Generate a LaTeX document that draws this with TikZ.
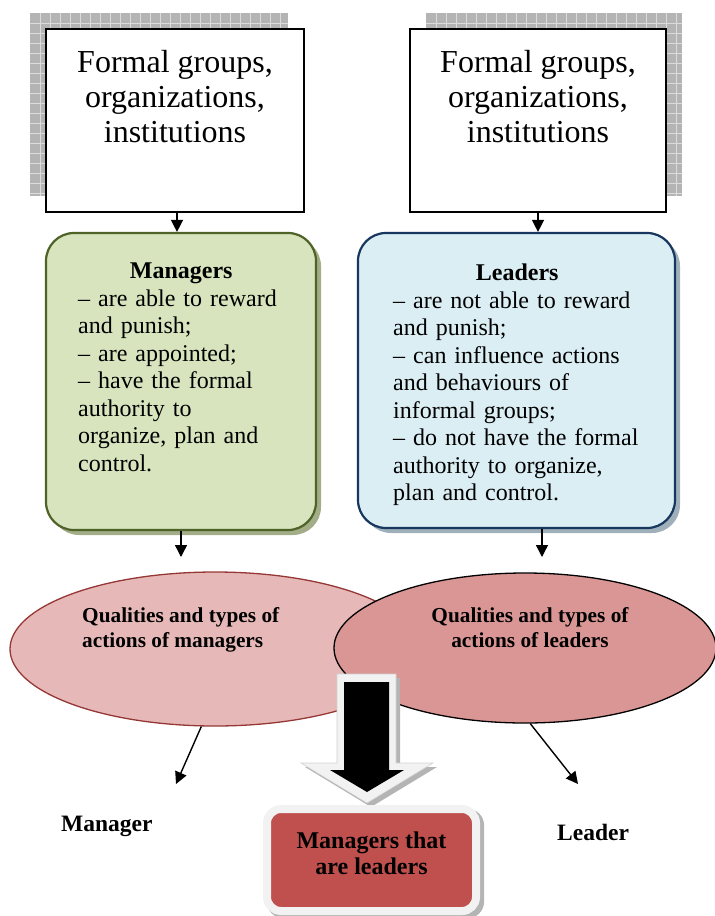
\documentclass[tikz,border=0pt]{standalone}
\usepackage{fontspec}
\setmainfont{Liberation Serif}
\usetikzlibrary{arrows.meta,shapes.geometric}
\definecolor{mgrfill}{HTML}{D7E4BD}
\definecolor{mgrline}{HTML}{4F6228}
\definecolor{ldrfill}{HTML}{DBEEF4}
\definecolor{ldrline}{HTML}{17375E}
\definecolor{qmfill}{HTML}{E6B9B8}
\definecolor{qmline}{HTML}{953735}
\definecolor{qlfill}{HTML}{D99694}
\definecolor{redbox}{HTML}{C0504D}
\definecolor{rim}{HTML}{F2F2F2}
\definecolor{shadegray}{HTML}{B4B4B4}
\definecolor{shadeline}{HTML}{DCDCDC}
\definecolor{mgrshade}{HTML}{A3AD88}
\definecolor{ldrshade}{HTML}{9FB0BB}
\begin{document}
\begin{tikzpicture}[x=1pt,y=-1pt,
  conn/.style={line width=1.4pt,-{Triangle[length=12pt,width=12pt]}},
  topbox/.style={draw=black,line width=1.6pt,fill=white,rectangle,inner sep=0pt},
  toptext/.style={inner sep=0pt,align=center,font=\fontsize{32}{35}\selectfont},
  listtext/.style={inner sep=0pt,align=left,font=\fontsize{24}{27.5}\selectfont},
  qtext/.style={inner sep=0pt,font=\bfseries\fontsize{21.3}{24.5}\selectfont},
  lbl/.style={inner sep=0pt,font=\bfseries\fontsize{23.5}{27}\selectfont},
  gridline/.style={shadeline,line width=0.6pt}]
\useasboundingbox (0,0) rectangle (715,916);

% ---- shadows of the top boxes
\fill[shadegray] (30,13) rectangle (288,196);
\foreach \x in {40,50,...,280} \draw[gridline] (\x,13) -- (\x,196);
\foreach \y in {23,33,...,193} \draw[gridline] (30,\y) -- (288,\y);
\fill[shadegray] (426,13) rectangle (682,196);
\foreach \x in {436,446,...,680} \draw[gridline] (\x,13) -- (\x,196);
\foreach \y in {23,33,...,193} \draw[gridline] (426,\y) -- (682,\y);

% ---- top boxes
\node[topbox,minimum width=258pt,minimum height=183pt] (fg1) at (175,120.5) {};
\node[toptext,anchor=north] (fg1t) at (175,50) {Formal groups,\\organizations,\\institutions};
\node[topbox,minimum width=256pt,minimum height=183pt] (fg2) at (538,120.5) {};
\node[toptext,anchor=north] (fg2t) at (538,50) {Formal groups,\\organizations,\\institutions};

% ---- managers / leaders boxes
\fill[mgrshade,rounded corners=28pt] (51,238) rectangle (321,535);
\node[draw=mgrline,line width=2.2pt,fill=mgrfill,rounded corners=28pt,
      minimum width=270pt,minimum height=297pt,inner sep=0pt] (mgr) at (181,381.5) {};
\node[listtext,text width=206pt,anchor=north west] (mgrt) at (78,263)
  {\makebox[206pt]{\bfseries Managers}\\– are able to reward\\and punish;\\– are appointed;\\– have the formal\\authority to\\organize, plan and\\control.};

\fill[ldrshade,rounded corners=28pt] (363,238) rectangle (680,533);
\node[draw=ldrline,line width=2.2pt,fill=ldrfill,rounded corners=28pt,
      minimum width=317pt,minimum height=295pt,inner sep=0pt] (ldr) at (516.5,380.5) {};
\node[listtext,text width=248pt,anchor=north west] (ldrt) at (393,264)
  {\makebox[248pt]{\bfseries Leaders}\\– are not able to reward\\and punish;\\– can influence actions\\and behaviours of\\informal groups;\\– do not have the formal\\authority to organize,\\plan and control.};

% ---- arrows between boxes
\draw[conn] ([xshift=2pt]fg1.south) -- ([xshift=2pt]fg1.south |- mgr.north);
\draw[conn] (fg2.south) -- (fg2.south |- ldr.north);
\coordinate (mdown) at (181,557);
\coordinate (ldown) at (542,557);
\draw[conn] (mgr.south) -- (mdown);
\draw[conn] (ldr.south -| ldown) -- (ldown);

% ---- ellipses
\node[ellipse,draw=qmline,line width=1.3pt,fill=qmfill,minimum width=410pt,minimum height=154pt,inner sep=0pt] (qm) at (215,649) {};
\node[ellipse,draw=black,line width=1.3pt,fill=qlfill,minimum width=382pt,minimum height=150pt,inner sep=0pt] (ql) at (525,648) {};
\node[qtext,align=left,anchor=north west] (qmt) at (82,607.6) {Qualities and types of\\actions of managers};
\node[qtext,align=center,anchor=north] (qlt) at (530,607.6) {Qualities and types of\\actions of leaders};

\coordinate (mtip) at (176,784);
\coordinate (ltip) at (578,784);
\draw[conn] (qm.260) -- (mtip);
\draw[conn] (ql.274) -- (ltip);

% ---- big block arrow
\fill[shadegray] (341,678) -- (400,678) -- (400,767) -- (437,767) -- (371,807) -- (305,767) -- (341,767) -- cycle;
\filldraw[fill=rim,draw=gray!35,line width=0.6pt] (337,674) -- (396,674) -- (396,763) -- (433,763) -- (367,803) -- (301,763) -- (337,763) -- cycle;
\fill[black] (344,682) -- (389,682) -- (389,770) -- (404,770) -- (367,792) -- (330,770) -- (344,770) -- cycle;

% ---- bottom box
\fill[shadegray,rounded corners=16pt] (267,809) rectangle (484,918);
\node[draw=rim,line width=8pt,fill=redbox,rounded corners=14pt,
      minimum width=209pt,minimum height=102pt,inner sep=0pt] (mal) at (371.5,860) {};
\node[lbl,align=center,anchor=north,font=\bfseries\fontsize{24}{26}\selectfont] (malt) at (371.5,832) {Managers that\\are leaders};

% ---- labels
\node[lbl,anchor=base west] (manager) at (61,831) {Manager};
\node[lbl,anchor=base west] (leader) at (557,840) {Leader};
\end{tikzpicture}
\end{document}
